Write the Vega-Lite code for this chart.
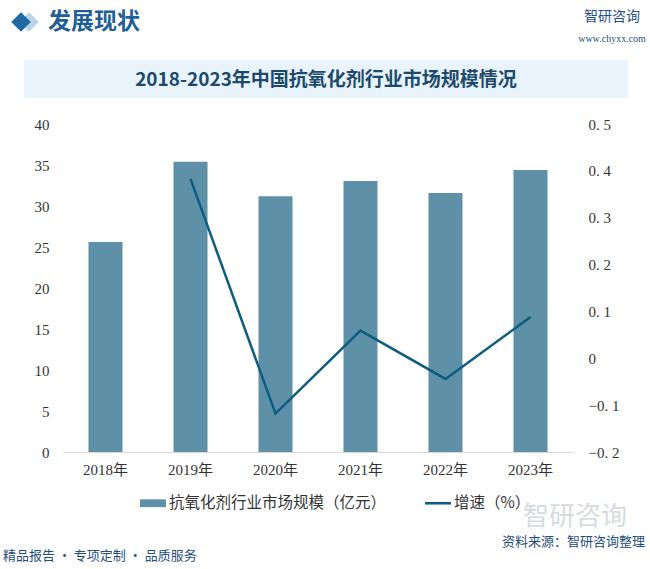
{
  "$schema": "https://vega.github.io/schema/vega-lite/v6.json",
  "width": 510,
  "height": 328,
  "autosize": {"type": "none"},
  "padding": {"left": 63, "top": 124, "right": 77, "bottom": 117},
  "background": "white",
  "config": {"view": {"stroke": null}},
  "datasets": {
    "market": [
      {"year": "2018年", "market": 25.6, "growth": null},
      {"year": "2019年", "market": 35.4, "growth": 0.383},
      {"year": "2020年", "market": 31.2, "growth": -0.118},
      {"year": "2021年", "market": 33.05, "growth": 0.059},
      {"year": "2022年", "market": 31.6, "growth": -0.044},
      {"year": "2023年", "market": 34.4, "growth": 0.088}
    ]
  },
  "layer": [
    {
      "data": {"values": [{}]},
      "mark": {"type": "rect", "x": -39, "x2": 565, "y": -64, "y2": -26, "fill": "#e8f3fb"},
      "encoding": {}
    },
    {
      "data": {"values": [{}]},
      "mark": {"type": "text", "text": "智研咨询", "x": 512, "y": 393, "align": "center", "baseline": "middle", "font": "Noto Sans CJK SC", "fontSize": 26, "fill": "#d6dbe0"},
      "encoding": {}
    },
    {
      "data": {"name": "market"},
      "mark": {"type": "bar", "color": "#5e90a7"},
      "encoding": {
        "x": {
          "field": "year", "type": "nominal", "sort": null,
          "scale": {"paddingInner": 0.6, "paddingOuter": 0.3},
          "axis": {
            "title": null, "labelAngle": 0, "ticks": false, "domainColor": "#d9d9d9", "domainWidth": 1,
            "labelFont": "Liberation Serif, Noto Sans CJK SC", "labelFontSize": 15, "labelColor": "#333333", "labelPadding": 10
          }
        },
        "y": {
          "field": "market", "type": "quantitative",
          "scale": {"domain": [0, 40], "nice": false},
          "axis": {
            "title": null, "orient": "left", "values": [0, 5, 10, 15, 20, 25, 30, 35, 40],
            "domain": false, "ticks": false, "grid": false,
            "labelFont": "Liberation Serif", "labelFontSize": 15, "labelColor": "#333333", "labelPadding": 14
          }
        },
        "color": {
          "datum": "抗氧化剂行业市场规模（亿元）",
          "type": "nominal",
          "scale": {"domain": ["抗氧化剂行业市场规模（亿元）", "增速（%）"], "range": ["#5e90a7", "#0e5d80"]},
          "legend": {
            "title": null, "orient": "none", "legendX": 77, "legendY": 366, "direction": "horizontal",
            "columnPadding": 38, "labelFont": "Noto Sans CJK SC", "labelFontSize": 15.5, "labelColor": "#333333",
            "labelLimit": 400, "labelOffset": 3, "symbolSize": 676,
            "encode": {
              "symbols": {
                "update": {
                  "shape": {"signal": "datum.value === '增速（%）' ? 'M-1,-0.1H1V0.1H-1Z' : 'M-1,-0.3H1V0.3H-1Z'"},
                  "fill": {"signal": "datum.value === '增速（%）' ? '#0e5d80' : '#5e90a7'"},
                  "stroke": {"value": "transparent"},
                  "strokeWidth": {"value": 0},
                  "opacity": {"value": 1},
                  "fillOpacity": {"value": 1}
                }
              }
            }
          }
        }
      }
    },
    {
      "data": {"name": "market"},
      "transform": [{"filter": "datum.growth != null"}],
      "mark": {"type": "line", "strokeWidth": 2.5, "color": "#0e5d80"},
      "encoding": {
        "x": {"field": "year", "type": "nominal", "sort": null},
        "y": {
          "field": "growth", "type": "quantitative",
          "scale": {"domain": [-0.2, 0.5], "nice": false, "zero": false},
          "axis": {
            "title": null, "orient": "right", "values": [-0.2, -0.1, 0, 0.1, 0.2, 0.3, 0.4, 0.5],
            "labelExpr": "datum.value == 0 ? '0' : replace(format(datum.value, '.1f'), '.', '. ')",
            "domain": false, "ticks": false, "grid": false,
            "labelFont": "Liberation Serif", "labelFontSize": 15, "labelColor": "#333333", "labelPadding": 15
          }
        },
        "color": {"datum": "增速（%）", "type": "nominal"}
      }
    },
    {
      "data": {"values": [{}]},
      "mark": {"type": "text", "text": "2018-2023年中国抗氧化剂行业市场规模情况", "x": 263, "y": -44, "align": "center", "baseline": "middle", "font": "Noto Sans CJK SC", "fontSize": 19, "fontWeight": "bold", "fill": "#1b4a6b"},
      "encoding": {}
    },
    {
      "data": {"values": [{}]},
      "mark": {"type": "point", "shape": "diamond", "x": -34, "y": -102, "size": 380, "filled": true, "fill": "#b9d3e8", "opacity": 1},
      "encoding": {}
    },
    {
      "data": {"values": [{}]},
      "mark": {"type": "point", "shape": "diamond", "x": -42, "y": -102, "size": 380, "filled": true, "fill": "#1f6aa5", "opacity": 1},
      "encoding": {}
    },
    {
      "data": {"values": [{}]},
      "mark": {"type": "text", "text": "发展现状", "x": -15, "y": -102, "align": "left", "baseline": "middle", "font": "Noto Sans CJK SC", "fontSize": 23, "fontWeight": "bold", "fill": "#1f5f96"},
      "encoding": {}
    },
    {
      "data": {"values": [{}]},
      "mark": {"type": "rule", "x": -53, "x2": 482, "y": -82, "y2": -82, "stroke": "#1f5c8a", "strokeWidth": 1.5},
      "encoding": {}
    },
    {
      "data": {"values": [{}]},
      "mark": {"type": "text", "text": "智研咨询", "x": 549, "y": -107, "align": "center", "baseline": "middle", "font": "Noto Sans CJK SC", "fontSize": 14, "fill": "#1f4e8a"},
      "encoding": {}
    },
    {
      "data": {"values": [{}]},
      "mark": {"type": "text", "text": "www.chyxx.com", "x": 549, "y": -85, "align": "center", "baseline": "middle", "font": "Liberation Serif", "fontSize": 10, "fill": "#1f4e79"},
      "encoding": {}
    },
    {
      "data": {"values": [{}]},
      "mark": {"type": "rule", "x": -63, "x2": 407, "y": 417, "y2": 417, "stroke": "#1f4e79", "strokeWidth": 1},
      "encoding": {}
    },
    {
      "data": {"values": [{}]},
      "mark": {"type": "text", "text": "资料来源：智研咨询整理", "x": 582, "y": 418, "align": "right", "baseline": "middle", "font": "Noto Sans CJK SC", "fontSize": 13, "fill": "#1f4e79"},
      "encoding": {}
    },
    {
      "data": {"values": [{}]},
      "mark": {"type": "text", "text": "精品报告 · 专项定制 · 品质服务", "x": -60, "y": 432, "align": "left", "baseline": "middle", "font": "Noto Sans CJK SC", "fontSize": 13, "fill": "#1f4e79"},
      "encoding": {}
    }
  ],
  "resolve": {"scale": {"y": "independent"}}
}
